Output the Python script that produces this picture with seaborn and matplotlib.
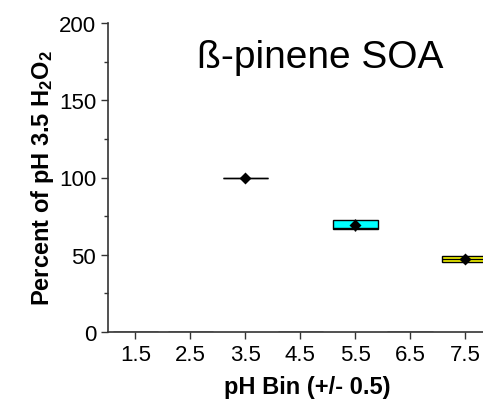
import matplotlib
matplotlib.use("Agg")
import matplotlib.pyplot as plt
import seaborn as sns
import pandas as pd
import numpy as np

bins = ["1.5", "2.5", "3.5", "4.5", "5.5", "6.5", "7.5"]
vals_1_5 = [0, 0, 0]
vals_2_5 = [0, 0, 0]
vals_3_5 = [100, 100, 100]
vals_4_5 = [0, 0, 0]
vals_5_5 = [65.5, 66.7, 67.5, 72.5, 73.0]
vals_6_5 = [0, 0, 0]
vals_7_5 = [44.8, 45.3, 47.0, 49.2, 49.5]
box_colors = ["white", "white", "white", "white", "#00FFFF", "white", "#FFFF00"]
y_ticks = [0, 50, 100, 150, 200]

all_vals = [vals_1_5, vals_2_5, vals_3_5, vals_4_5, vals_5_5, vals_6_5, vals_7_5]
rows = []
for b, v in zip(bins, all_vals):
    for x in v:
        rows.append({"bin": b, "val": x})
df = pd.DataFrame(rows)

sns.set_style("ticks")
plt.rcParams['font.family'] = ['Liberation Sans', 'DejaVu Sans']
plt.rcParams['mathtext.fontset'] = 'custom'
plt.rcParams['mathtext.rm'] = 'Liberation Sans'
plt.rcParams['text.color'] = 'black'
plt.rcParams['axes.labelcolor'] = 'black'
plt.rcParams['xtick.color'] = 'black'
plt.rcParams['ytick.color'] = 'black'

fig = plt.figure(figsize=(4.83, 4.02), dpi=100)
ax = fig.add_axes([108/483, 69/402, 1 - 108/483 + 0.05, 309/402])

sns.boxplot(data=df, x="bin", y="val", hue="bin", order=bins, hue_order=bins,
            palette=dict(zip(bins, box_colors)), legend=False, width=0.82,
            whis=10, showmeans=False, showcaps=False, linewidth=1.0,
            boxprops=dict(edgecolor="black"),
            medianprops=dict(color="black"), whiskerprops=dict(color="black"),
            ax=ax, saturation=1)
# grey zero boxes
for patch, v in zip(ax.patches, all_vals):
    if max(v) == 0:
        patch.set_edgecolor("#555555")

sns.pointplot(data=df[df.val > 0], x="bin", y="val", order=bins,
              estimator="mean", errorbar=None, linestyle="none",
              markers="D", color="black", markersize=4.5, ax=ax, zorder=5)

ax.set_xlim(-0.5, 6.33 + 0.05 * 483 / 55)
ax.set_ylim(0, 200)
ax.set_yticks(y_ticks)
ax.set_yticks([25, 75, 125, 175], minor=True)
ax.set_xticks(range(len(bins)))
ax.set_xticklabels(bins)
ax.tick_params(axis='both', which='major', labelsize=16, length=5, width=1.0,
               color='#333333', labelcolor='black', direction='out')
ax.tick_params(axis='y', which='minor', length=3, width=1.0, color='#333333')
for s in ["top", "right"]:
    ax.spines[s].set_visible(False)
for s in ["left", "bottom"]:
    ax.spines[s].set_linewidth(1.2)
    ax.spines[s].set_color('#333333')

ax.set_xlabel("pH Bin (+/- 0.5)", fontsize=17, fontweight='bold', labelpad=7, color='black')
ax.set_ylabel(r"Percent of pH 3.5 $\mathregular{H_2O_2}$", fontsize=17, fontweight='bold', labelpad=2, color='black')
ax.text(320/483, 1 - 58/402, "ß-pinene SOA", transform=fig.transFigure, ha='center', va='center', fontsize=28, color='black')

fig.savefig("out.png", dpi=100)
